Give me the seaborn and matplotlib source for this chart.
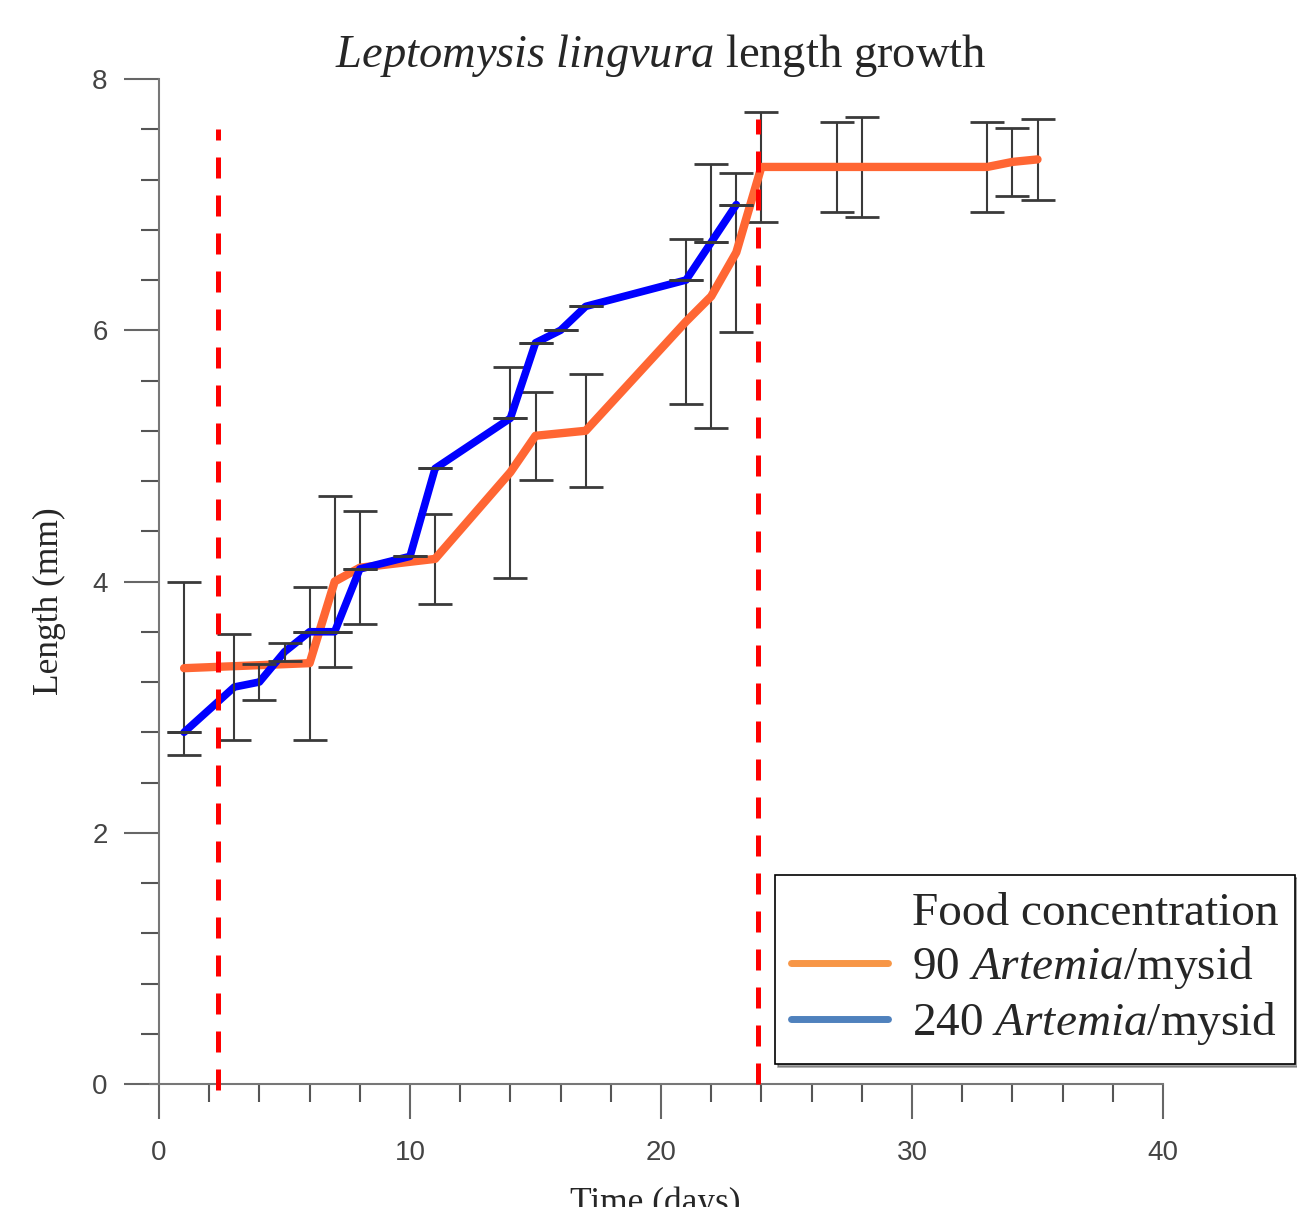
import numpy as np
import pandas as pd
import matplotlib
matplotlib.use("Agg")
import matplotlib.pyplot as plt
import seaborn as sns
from matplotlib.lines import Line2D
from matplotlib.ticker import MultipleLocator

# ---- data ----
days_90 = [1, 6, 7, 8, 11, 14, 15, 17, 21, 22, 23, 24, 27, 28, 33, 34, 35]
len_90 = [3.31, 3.35, 4.00, 4.11, 4.18, 4.87, 5.16, 5.20, 6.07, 6.27, 6.62,
          7.30, 7.30, 7.30, 7.30, 7.34, 7.36]
sd_90 = [0.69, 0.61, 0.68, 0.45, 0.36, 0.84, 0.35, 0.45, 0.66, 1.05, 0.63,
         0.44, 0.36, 0.40, 0.36, 0.27, 0.32]

days_240 = [1, 3, 4, 5, 6, 7, 8, 10, 11, 14, 15, 16, 17, 21, 22, 23]
len_240 = [2.80, 3.16, 3.20, 3.44, 3.60, 3.60, 4.10, 4.20, 4.90, 5.30, 5.90,
           6.00, 6.19, 6.40, 6.70, 7.00]
sd_240 = [0, 0.42, 0.14, 0.07, 0, 0, 0, 0, 0, 0, 0, 0, 0, 0, 0, 0]

event_days = [2.35, 23.85]
event_bottom = [-0.05, 0.0]
event_top = [7.60, 7.68]

labels = ["Food concentration", "90 $\\it{Artemia}$/mysid", "240 $\\it{Artemia}$/mysid"]

df = pd.concat([
    pd.DataFrame({"day": days_90, "length": len_90, "sd": sd_90, "group": "90"}),
    pd.DataFrame({"day": days_240, "length": len_240, "sd": sd_240, "group": "240"}),
], ignore_index=True)

sns.set_theme(style="white")
plt.rcParams["font.family"] = ["Liberation Serif", "DejaVu Serif"]
plt.rcParams["mathtext.fontset"] = "custom"
plt.rcParams["mathtext.rm"] = "Liberation Serif"
plt.rcParams["mathtext.it"] = "Liberation Serif:italic"

fig = plt.figure(figsize=(12.97, 12.07), dpi=100)
ax = fig.add_axes([159 / 1297, 1 - 1084 / 1207, (1163 - 159) / 1297, (1084 - 79) / 1207])

d90 = df[df.group == "90"]
d240 = df[df.group == "240"]

# error bars for 90 group
ax.errorbar(d90.day, d90.length, yerr=d90.sd, fmt="none", ecolor="#3a3a3a",
            elinewidth=1.5, capsize=12, capthick=2, zorder=2)

sns.lineplot(data=d90, x="day", y="length", ax=ax, color="#FF6633",
             linewidth=6, estimator=None, sort=True, zorder=3, legend=False)
sns.lineplot(data=d240, x="day", y="length", ax=ax, color="#0000FF",
             linewidth=5.5, estimator=None, sort=True, zorder=4, legend=False)

ax.errorbar(d240.day, d240.length, yerr=d240.sd, fmt="none", ecolor="#3a3a3a",
            elinewidth=1.5, capsize=12, capthick=2, zorder=5)

ax.vlines(event_days, event_bottom, event_top, colors="#FF0000",
          linestyles=(0, (4.2, 3.4)), linewidth=3.6, clip_on=False, zorder=6)

ax.set_xlim(0, 40)
ax.set_ylim(0, 8)
ax.xaxis.set_major_locator(MultipleLocator(10))
ax.xaxis.set_minor_locator(MultipleLocator(2))
ax.yaxis.set_major_locator(MultipleLocator(2))
ax.yaxis.set_minor_locator(MultipleLocator(0.4))

for s in ["top", "right"]:
    ax.spines[s].set_visible(False)
for s in ["left", "bottom"]:
    ax.spines[s].set_color("#777777")
    ax.spines[s].set_linewidth(1.5)
ax.spines["bottom"].set_bounds(-0.36, 40)

ax.tick_params(which="major", direction="out", length=25, width=1.5,
               color="#666666", labelcolor="#444444", labelsize=20, pad=12,
               bottom=True, left=True)
ax.tick_params(which="minor", direction="out", length=13, width=1.5,
               color="#555555", bottom=True, left=True)
for lab in ax.get_xticklabels() + ax.get_yticklabels():
    lab.set_family(["Liberation Sans Narrow", "Liberation Sans", "DejaVu Sans"])
ax.tick_params(axis="x", which="major", pad=15)

ax.set_title("$\\it{Leptomysis\\ lingvura}$ length growth", fontsize=33.5, pad=2)
ax.set_ylabel("Length (mm)", fontsize=25.5)
ax.yaxis.set_label_coords(-0.093, 0.48)
ax.set_xlabel("Time (days)", fontsize=25.5, va="top")
ax.xaxis.set_label_coords(0.494, -0.102)

handles = [Line2D([], [], color="none", linewidth=0),
           Line2D([], [], color="#F79646", linewidth=5),
           Line2D([], [], color="#4F81BD", linewidth=5)]
leg = fig.legend(handles, labels, loc="lower right",
                 bbox_to_anchor=(1295 / 1297, 1 - 1064 / 1207),
                 fontsize=34, frameon=True, fancybox=False, shadow=True,
                 handlelength=2.05, handletextpad=0.5, labelspacing=0.2,
                 borderpad=0.35, borderaxespad=0)
leg.get_frame().set_edgecolor("black")
leg.get_frame().set_linewidth(1.2)

fig.savefig("out.png", dpi=100)
